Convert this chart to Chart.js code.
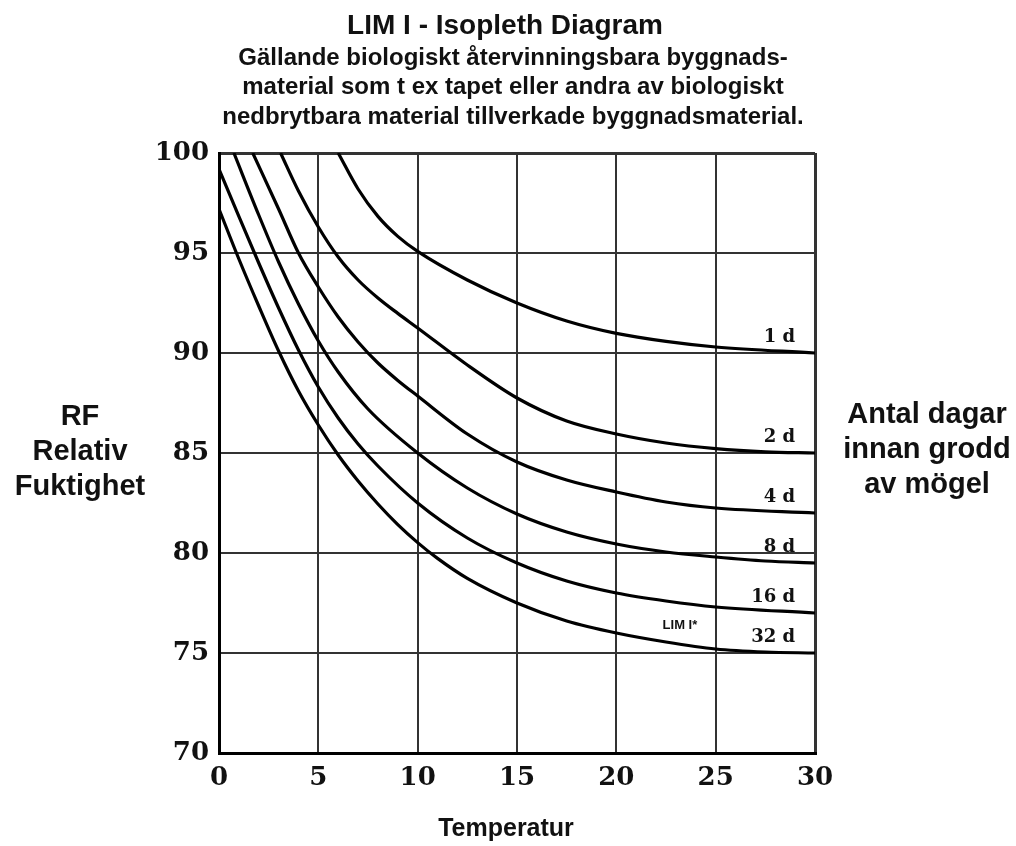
<!DOCTYPE html>
<html lang="sv">
<head>
  <meta charset="UTF-8">
  <title>LIM I - Isopleth Diagram</title>
  <style>
    * { margin: 0; padding: 0; box-sizing: border-box; }
    body { background: #fff; width: 1016px; height: 846px; overflow: hidden; }
    #wrap { position: relative; width: 1016px; height: 846px; }
  </style>
  <script src="https://cdn.jsdelivr.net/npm/chart.js"></script>
</head>
<body>
  <div id="wrap"><canvas id="isoChart"></canvas></div>

  <script>
    // axis ticks
    const tempTicks = [0, 5, 10, 15, 20, 25, 30];
    const rfTicks = [70, 75, 80, 85, 90, 95, 100];

    // isopleths (temperature, RF)
    const temp1d = [6, 7, 8, 9, 10, 12.5, 15, 17.5, 20, 22.5, 25, 30];
    const rf1d   = [100, 98.2, 96.83, 95.83, 95.08, 93.65, 92.5, 91.6, 90.98, 90.58, 90.3, 90];

    const temp2d = [3.1, 4, 5, 6, 7, 8, 9, 10, 12.5, 15, 17.5, 20, 22.5, 25, 27.5, 30];
    const rf2d   = [100, 98.1, 96.3, 94.8, 93.65, 92.75, 91.98, 91.25, 89.4, 87.75, 86.6, 85.95, 85.5, 85.22, 85.06, 85];

    const temp4d = [1.7, 3, 4, 5, 6, 7, 8, 9, 10, 12.5, 15, 17.5, 20, 22.5, 25, 30];
    const rf4d   = [100, 97.2, 95.0, 93.3, 91.8, 90.55, 89.5, 88.63, 87.85, 85.95, 84.55, 83.65, 83.05, 82.55, 82.25, 82];

    const temp8d = [0.75, 2, 3, 4, 5, 6, 7.5, 10, 12.5, 15, 17.5, 20, 22.5, 25, 27.5, 30];
    const rf8d   = [100, 96.9, 94.55, 92.45, 90.6, 89.05, 87.2, 85.0, 83.25, 81.95, 81.05, 80.45, 80.05, 79.8, 79.6, 79.5];

    const temp16d = [0, 1, 2, 3, 4, 5, 6, 7, 8, 10, 12.5, 15, 17.5, 20, 22.5, 25, 30];
    const rf16d   = [99.2, 96.83, 94.5, 92.25, 90.15, 88.3, 86.75, 85.45, 84.35, 82.5, 80.75, 79.5, 78.6, 78.0, 77.6, 77.3, 77];

    const temp32d = [0, 1, 2, 3, 4, 5, 6, 7, 8, 9, 10, 11, 12.5, 15, 17.5, 20, 22.5, 25, 27.5, 30];
    const rf32d   = [97.2, 94.7, 92.35, 90.1, 88.1, 86.4, 84.9, 83.6, 82.45, 81.42, 80.52, 79.73, 78.73, 77.5, 76.6, 76.0, 75.55, 75.2, 75.05, 75];

    const curveNames = ['1 d', '2 d', '4 d', '8 d', '16 d', '32 d'];
    const curveTemps = [temp1d, temp2d, temp4d, temp8d, temp16d, temp32d];
    const curveRfs = [rf1d, rf2d, rf4d, rf8d, rf16d, rf32d];

    const titleText = 'LIM I - Isopleth Diagram';
    const subtitleLines = [
      'Gällande biologiskt återvinningsbara byggnads-',
      'material som t ex tapet eller andra av biologiskt',
      'nedbrytbara material tillverkade byggnadsmaterial.'
    ];
    const leftLabel = ['RF', 'Relativ', 'Fuktighet'];
    const rightLabel = ['Antal dagar', 'innan grodd', 'av mögel'];
    const xLabel = 'Temperatur';

    const sans = '"Liberation Sans", Arial, sans-serif';
    const serif = '"DejaVu Serif", serif';

    const datasets = curveNames.map((name, i) => ({
      label: name,
      data: curveTemps[i].map((t, j) => ({ x: t, y: curveRfs[i][j] })),
      borderColor: '#000',
      borderWidth: 3.2,
      pointRadius: 0,
      fill: false,
      cubicInterpolationMode: 'monotone'
    }));

    // titles, side texts and curve labels
    const textPlugin = {
      id: 'texts',
      afterDraw(chart) {
        const { ctx, scales } = chart;
        const x = scales.x, y = scales.y;
        ctx.save();
        ctx.fillStyle = '#111';
        ctx.textAlign = 'center';
        ctx.textBaseline = 'middle';

        ctx.font = 'bold 28px ' + sans;
        ctx.fillText(titleText, 505, 26);
        ctx.font = 'bold 24px ' + sans;
        subtitleLines.forEach((t, i) => ctx.fillText(t, 513, 58 + i * 29.5));

        ctx.font = 'bold 29px ' + sans;
        leftLabel.forEach((t, i) => ctx.fillText(t, 80, 417 + i * 35));
        rightLabel.forEach((t, i) => ctx.fillText(t, 927, 415 + i * 35));

        ctx.font = 'bold 25px ' + sans;
        ctx.fillText(xLabel, 506, 829);

        ctx.font = 'bold 18px ' + serif;
        ctx.textAlign = 'right';
        curveNames.forEach((name, i) => {
          const rf = curveRfs[i];
          ctx.fillText(name, x.getPixelForValue(29), y.getPixelForValue(rf[rf.length - 1]) - 16);
        });

        ctx.font = 'bold 13px ' + sans;
        ctx.textAlign = 'center';
        ctx.fillText('LIM I*', x.getPixelForValue(23.2), y.getPixelForValue(76.4));
        ctx.restore();
      }
    };

    const edgeWidth = (ctx, lo, hi) => (ctx.tick && (ctx.tick.value === lo || ctx.tick.value === hi)) ? 3 : 2;

    new Chart(document.getElementById('isoChart'), {
      type: 'line',
      data: { datasets: datasets },
      options: {
        responsive: true,
        maintainAspectRatio: false,
        animation: false,
        layout: { padding: { top: 153, right: 201, left: 0, bottom: 0 } },
        plugins: {
          legend: { display: false },
          tooltip: { enabled: false }
        },
        scales: {
          x: {
            type: 'linear',
            min: 0,
            max: 30,
            afterBuildTicks: s => { s.ticks = tempTicks.map(v => ({ value: v })); },
            afterFit: s => { s.height = 93; },
            grid: { color: '#333', lineWidth: c => edgeWidth(c, 0, 30), drawTicks: false },
            border: { display: true, color: '#000', width: 3 },
            ticks: { color: '#111', padding: 10, font: { family: serif, size: 26, weight: 'bold' } }
          },
          y: {
            type: 'linear',
            min: 70,
            max: 100,
            afterBuildTicks: s => { s.ticks = rfTicks.map(v => ({ value: v })); },
            afterFit: s => { s.width = 219; },
            grid: { color: '#333', lineWidth: c => edgeWidth(c, 70, 100), drawTicks: false },
            border: { display: true, color: '#000', width: 3 },
            ticks: { color: '#111', padding: 10, font: { family: serif, size: 26, weight: 'bold' } }
          }
        }
      },
      plugins: [textPlugin]
    });
  </script>
</body>
</html>
